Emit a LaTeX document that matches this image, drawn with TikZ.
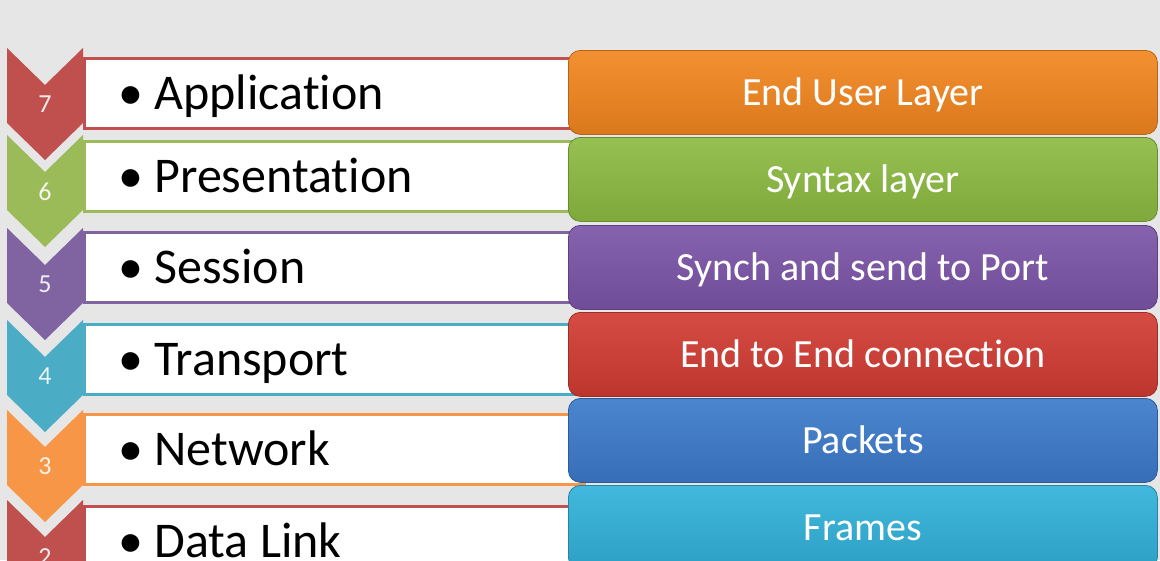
\documentclass[tikz,border=0pt]{standalone}
\usepackage{fontspec}
\setmainfont{Carlito}[Ligatures={NoCommon}]
\usepackage{tikz}
\usetikzlibrary{positioning,calc}

\definecolor{bggray}{HTML}{E6E6E6}
\definecolor{layred}{HTML}{C0504D}
\definecolor{laygreen}{HTML}{9BBB59}
\definecolor{laypurple}{HTML}{8064A2}
\definecolor{layaqua}{HTML}{4BACC6}
\definecolor{layorange}{HTML}{F79646}
\definecolor{boxorange}{HTML}{F2861F}
\definecolor{boxgreen}{HTML}{8DBB42}
\definecolor{boxpurple}{HTML}{7C55A8}
\definecolor{boxred}{HTML}{D23C33}
\definecolor{boxblue}{HTML}{3C7BCB}
\definecolor{boxcyan}{HTML}{31B2DA}

\begin{document}
\begin{tikzpicture}[x=1pt,y=-1pt,
    rowbox/.style={draw=#1, line width=2.5pt, fill=white, minimum width=500pt,
      minimum height=70pt, inner sep=0pt, anchor=north west},
    rowtext/.style={anchor=west, inner sep=0pt, text height=33pt, text depth=0pt,
      font=\fontsize{50}{50}\selectfont},
    numtext/.style={inner sep=0pt, text=white!88!#1, font=\fontsize{26}{26}\selectfont},
    layerbox/.style={rounded corners=12pt, minimum width=589pt, minimum height=84pt,
      anchor=north west, inner sep=0pt, text=white, text height=26pt, text depth=0pt,
      font=\fontsize{40}{40}\selectfont, draw=#1!75!black, line width=0.8pt,
      top color=#1!92!white, bottom color=#1!90!black}]
        % Page
        \useasboundingbox (0,0) rectangle (1160,560);
        \clip (0,0) rectangle (1160,560);
        \fill[bggray] (0,0) rectangle (1160,560);
        % White rows
        \node[rowbox=layred] (app) at (83,57) {};
        \node[rowbox=laygreen] (pres) at (83,140) {};
        \node[rowbox=laypurple] (sess) at (83,231) {};
        \node[rowbox=layaqua] (trans) at (83,323) {};
        \node[rowbox=layorange] (net) at (83,413) {};
        \node[rowbox=layred] (link) at (83,505) {};
        \node[rowtext, right=35pt of app.west] (apptext) {• Application};
        \node[rowtext, right=35pt of pres.west] (prestext) {• Presentation};
        \node[rowtext, right=35pt of sess.west] (sesstext) {• Session};
        \node[rowtext, right=35pt of trans.west] (transtext) {• Transport};
        \node[rowtext, right=35pt of net.west] (nettext) {• Network};
        \node[rowtext, right=35pt of link.west] (linktext) {• Data Link};
        % Chevrons
        \fill[layred] (7,48) -- (45,85) -- (83,48) -- (83,123) -- (45,160) -- (7,123) -- cycle;
        \fill[laygreen] (7,135) -- (45,172) -- (83,135) -- (83,210) -- (45,247) -- (7,210) -- cycle;
        \fill[laypurple] (7,228) -- (45,265) -- (83,228) -- (83,303) -- (45,340) -- (7,303) -- cycle;
        \fill[layaqua] (7,320) -- (45,357) -- (83,320) -- (83,395) -- (45,432) -- (7,395) -- cycle;
        \fill[layorange] (7,410) -- (45,447) -- (83,410) -- (83,485) -- (45,522) -- (7,485) -- cycle;
        \fill[layred] (7,500) -- (45,537) -- (83,500) -- (83,575) -- (45,612) -- (7,575) -- cycle;
        \node[numtext=layred] (appnum) at (45,104) {7};
        \node[numtext=laygreen] (presnum) at (45,192) {6};
        \node[numtext=laypurple] (sessnum) at (45,284) {5};
        \node[numtext=layaqua] (transnum) at (45,376) {4};
        \node[numtext=layorange] (netnum) at (45,466) {3};
        \node[numtext=layred] (linknum) at (45,557) {2};
        % Right boxes
        \node[layerbox=boxorange] (appbox) at (568,50) {End User Layer};
        \node[layerbox=boxgreen] (presbox) at (568,137) {Syntax layer};
        \node[layerbox=boxpurple] (sessbox) at (568,225) {Synch and send to Port};
        \node[layerbox=boxred] (transbox) at (568,312) {End to End connection};
        \node[layerbox=boxblue] (netbox) at (568,398) {Packets};
        \node[layerbox=boxcyan] (linkbox) at (568,485) {Frames};
\end{tikzpicture}
\end{document}
